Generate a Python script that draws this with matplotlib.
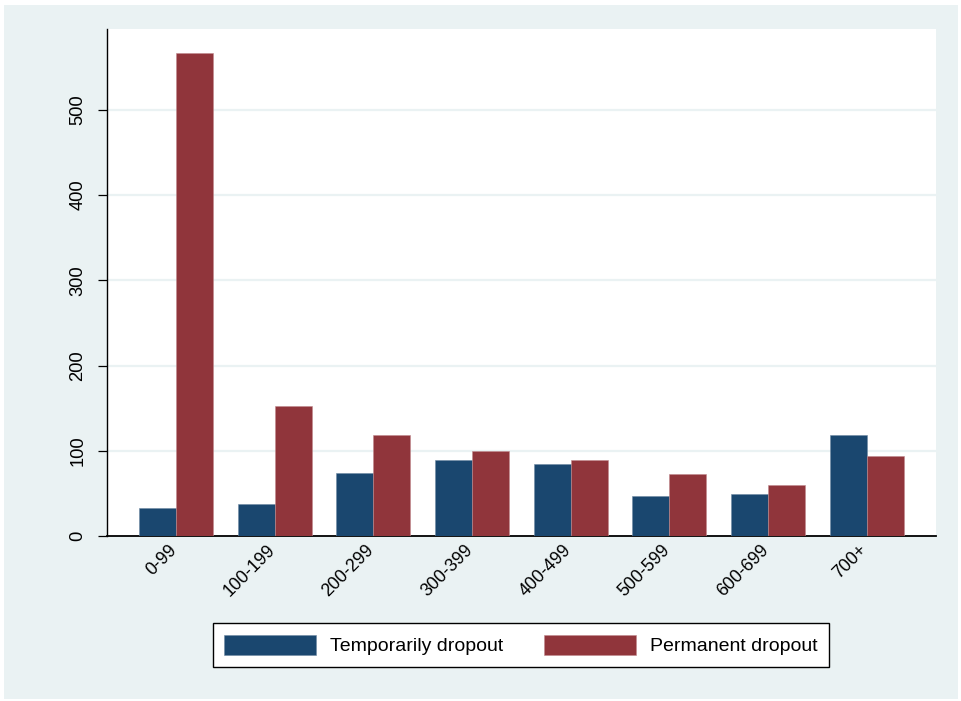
import matplotlib
matplotlib.use('Agg')
from matplotlib import pyplot as plt
from matplotlib.patches import Rectangle, Patch
from matplotlib.transforms import ScaledTranslation
import numpy as np

categories = ['0-99', '100-199', '200-299', '300-399', '400-499', '500-599', '600-699', '700+']
temporary = [33, 37, 74, 89, 85, 47, 49, 118]
permanent = [567, 152, 118, 100, 89, 73, 60, 94]
series_labels = ['Temporarily dropout', 'Permanent dropout']
y_ticks = [0, 100, 200, 300, 400, 500]

navy = '#1a476f'
maroon = '#90353b'
frame_color = '#eaf2f3'

plt.rcParams['font.family'] = ['Liberation Sans', 'DejaVu Sans']
plt.rcParams['font.size'] = 14

W, H = 962, 701
fig = plt.figure(figsize=(W / 100, H / 100), dpi=100, facecolor='white')

# outer graph region, behind the axes
fig.patches.append(Rectangle((4 / W, 2 / H), 954 / W, 694 / H, transform=fig.transFigure,
                             facecolor=frame_color, edgecolor='none', zorder=-10))

ax = fig.add_axes([107 / W, (H - 536) / H, (936 - 107) / W, (536 - 29) / H])
ax.set_facecolor('white')

x = np.arange(len(categories))
width = 0.375
ax.bar(x - width / 2, temporary, width, color=navy, edgecolor='#6f8aa3', linewidth=0.4, zorder=3)
ax.bar(x + width / 2, permanent, width, color=maroon, edgecolor='#c08a8e', linewidth=0.4, zorder=3)

ax.set_xlim(-0.699, 7.702)
ax.set_ylim(0, 595)

ax.set_yticks(y_ticks)
ax.set_yticklabels([str(v) for v in y_ticks], rotation=90, va='center', fontsize=13.2)
ax.tick_params(axis='y', length=6.5, width=0.9, pad=8.5, color='black')
for v in y_ticks[1:]:
    ax.axhline(v, color=frame_color, linewidth=1.6, zorder=1)

ax.set_xticks(x)
ax.set_xticklabels(categories, rotation=45, ha='right', va='top', rotation_mode='anchor',
                   fontsize=12.8)
ax.tick_params(axis='x', length=0, pad=4)
# nudge the slanted labels so their upper end sits under the group centre
shift = ScaledTranslation(-8 / 100, 0, fig.dpi_scale_trans)
for lbl in ax.get_xticklabels():
    lbl.set_transform(lbl.get_transform() + shift)

for side in ['top', 'right']:
    ax.spines[side].set_visible(False)
ax.spines['left'].set_linewidth(1.0)
ax.spines['bottom'].set_linewidth(1.3)

handles = [Patch(facecolor=navy, edgecolor='#6f8aa3', linewidth=0.4),
           Patch(facecolor=maroon, edgecolor='#c08a8e', linewidth=0.4)]
leg = fig.legend(handles, series_labels, ncol=2, loc='center',
                 bbox_to_anchor=((213 + 829) / 2 / W, 1 - 645 / H),
                 frameon=True, fancybox=False, edgecolor='black', facecolor='white',
                 framealpha=1, handlelength=4.7, handleheight=1.25,
                 handletextpad=0.75, columnspacing=2.1, borderpad=0.6)
leg.get_frame().set_linewidth(1.0)

fig.savefig('out.png', dpi=100, facecolor='white')
